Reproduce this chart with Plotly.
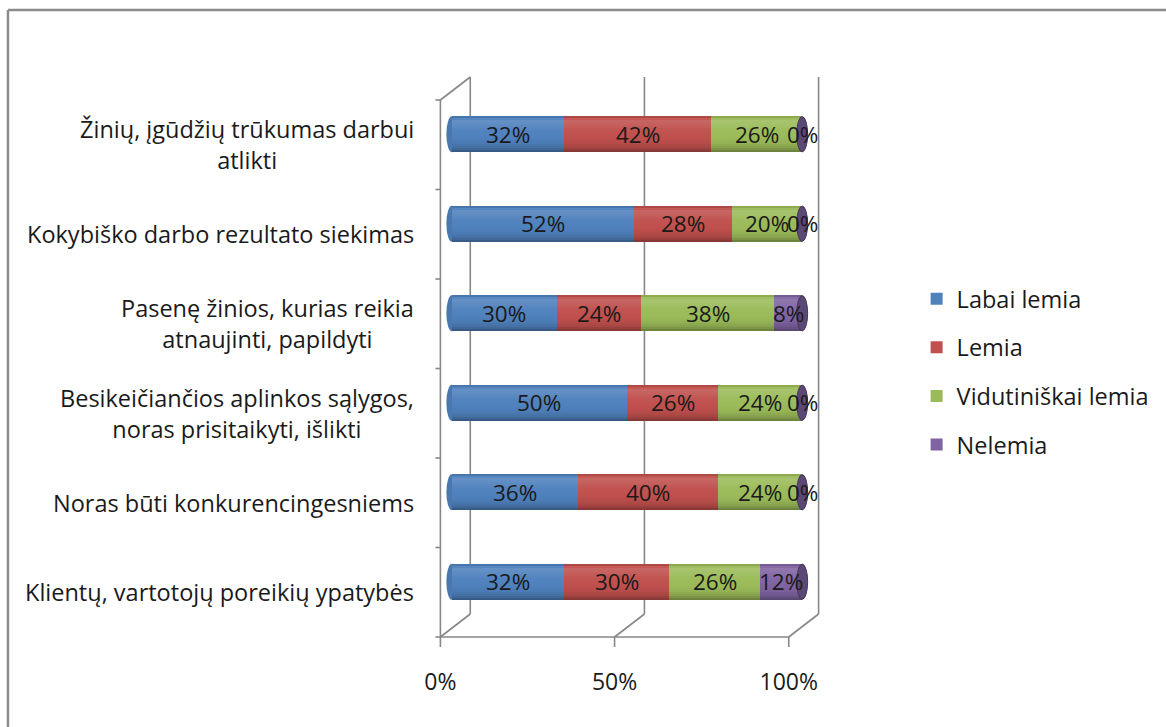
import plotly.graph_objects as go

# Survey items, bottom to top
categories = [
    "Klientų, vartotojų poreikių ypatybės",
    "Noras būti konkurencingesniems",
    "Besikeičiančios aplinkos sąlygos,<br>noras prisitaikyti, išlikti",
    "Pasenę žinios, kurias reikia<br>atnaujinti, papildyti",
    "Kokybiško darbo rezultato siekimas",
    "Žinių, įgūdžių trūkumas darbui<br>atlikti",
]
series_names = ["Labai lemia", "Lemia", "Vidutiniškai lemia", "Nelemia"]
labai_lemia = [32, 36, 50, 30, 52, 32]
lemia = [30, 40, 26, 24, 28, 42]
vidutiniskai_lemia = [26, 24, 24, 38, 20, 26]
nelemia = [12, 0, 0, 8, 0, 0]
x_tick_values = [0, 50, 100]
x_tick_labels = ["0%", "50%", "100%"]

series_values = [labai_lemia, lemia, vidutiniskai_lemia, nelemia]
series_colors = ["#4F81BD", "#C0504D", "#9BBB59", "#8064A2"]

FONT = "Open Sans"
TEXT = "#1a1a1a"
FRAME = "#878787"

# --- layout geometry (pixels) ---
W_PX, H_PX = 1166, 727
PLOT_L, PLOT_R, PLOT_T, PLOT_B = 420, 840, 60, 650
FRONT_X0, FRONT_SCALE = 440.5, 3.5      # front plane: px of 0 %, px per %
BAR_X0, BAR_SCALE = 452.0, 3.52          # cylinders: px of 0 %, px per %
CAT_PX = 89.5                            # px per category
FRONT_Y_BOTTOM = 637.0                   # px of the front floor edge

front_range = [(PLOT_L - FRONT_X0) / FRONT_SCALE, (PLOT_R - FRONT_X0) / FRONT_SCALE]
bar_range = [(PLOT_L - BAR_X0) / BAR_SCALE, (PLOT_R - BAR_X0) / BAR_SCALE]
y_range = [-0.5 - (PLOT_B - FRONT_Y_BOTTOM) / CAT_PX,
           -0.5 + (FRONT_Y_BOTTOM - PLOT_T) / CAT_PX]

DEPTH_X = 30 / FRONT_SCALE   # depth offset of back wall, in % units
DEPTH_Y = 23 / CAT_PX        # depth offset of back wall, in category units
BAR_SHIFT = 10.5 / CAT_PX    # cylinders sit half-way into the depth
BAR_W = 36 / CAT_PX          # cylinder thickness


def shade(hex_color, f):
    r, g, b = (int(hex_color[i:i + 2], 16) for i in (1, 3, 5))
    if f >= 1:
        t = f - 1
        r, g, b = (c + (255 - c) * t for c in (r, g, b))
    else:
        r, g, b = (c * f for c in (r, g, b))
    return "#%02x%02x%02x" % tuple(int(max(0, min(255, round(c)))) for c in (r, g, b))


# brightness profile across the cylinder, top edge (0) to bottom edge (1)
profile = [(0.00, 0.80), (0.05, 1.00), (0.14, 1.12), (0.26, 1.08), (0.40, 1.02),
           (0.60, 1.00), (0.75, 0.95), (0.88, 0.86), (1.00, 0.66)]


def brightness(t):
    for (t0, f0), (t1, f1) in zip(profile, profile[1:]):
        if t <= t1:
            return f0 + (f1 - f0) * (t - t0) / (t1 - t0)
    return profile[-1][1]


N_BANDS = 18
bands = [(k / N_BANDS, (k + 1) / N_BANDS, brightness((k + 0.5) / N_BANDS))
         for k in range(N_BANDS)]

ypos = [i + BAR_SHIFT for i in range(len(categories))]

fig = go.Figure()

starts = [0] * len(categories)
seg_starts = []
for name, vals, col in zip(series_names, series_values, series_colors):
    base = list(starts)
    seg_starts.append(base)
    # full-width layer (also provides the legend swatch)
    fig.add_trace(go.Bar(
        orientation="h", x=vals, y=ypos, base=base, xaxis="x2", yaxis="y",
        width=BAR_W, offset=-BAR_W / 2, marker=dict(color=col, line=dict(width=0)),
        name=name, legendgroup=name, showlegend=True, hoverinfo="skip",
    ))
    for a, b, f in bands:
        fig.add_trace(go.Bar(
            orientation="h", x=vals, y=ypos, base=base, xaxis="x2", yaxis="y",
            width=(b - a) * BAR_W * 1.06, offset=BAR_W / 2 - b * BAR_W,
            marker=dict(color=shade(col, f), line=dict(width=0)),
            name=name, legendgroup=name, showlegend=False, hoverinfo="skip",
        ))
    starts = [s + v for s, v in zip(starts, vals)]

shapes = []
line = dict(color=FRAME, width=1.6)


def seg(x0, y0, x1, y1, xref="x", yref="y", ln=line):
    shapes.append(dict(type="line", xref=xref, yref=yref, x0=x0, y0=y0, x1=x1, y1=y1,
                       line=ln, layer="below"))


y_lo, y_hi = -0.5, len(categories) - 0.5
for g in x_tick_values:
    # back wall gridlines
    seg(g + DEPTH_X, y_lo + DEPTH_Y, g + DEPTH_X, y_hi + DEPTH_Y)
    # floor diagonals
    seg(g, y_lo, g + DEPTH_X, y_lo + DEPTH_Y)
    # floor tick marks
    seg(g, y_lo, g, y_lo - 10 / CAT_PX)
# front floor edge
seg(0, y_lo, 100, y_lo)
# left wall
seg(0, y_lo, 0, y_hi)
seg(0, y_hi, DEPTH_X, y_hi + DEPTH_Y)
for k in range(len(categories) + 1):
    seg(-5 / FRONT_SCALE, y_lo + k, 0, y_lo + k)

# cylinder end caps
cap_w = 5.5 / BAR_SCALE
for i, y in enumerate(ypos):
    shapes.append(dict(type="circle", xref="x2", yref="y", layer="below",
                       x0=-cap_w, x1=cap_w, y0=y - BAR_W / 2, y1=y + BAR_W / 2,
                       fillcolor=shade(series_colors[0], 0.92), line=dict(width=0)))
    total = starts[i]
    shapes.append(dict(type="circle", xref="x2", yref="y", layer="above",
                       x0=total - cap_w, x1=total + cap_w,
                       y0=y - BAR_W / 2 + 0.004, y1=y + BAR_W / 2 - 0.004,
                       fillcolor=shade(series_colors[3], 0.72),
                       line=dict(color=shade(series_colors[3], 0.55), width=1)))

# outer chart border (top and left edges)
px = lambda p: (p - PLOT_L) / (PLOT_R - PLOT_L)
py = lambda p: (PLOT_B - p) / (PLOT_B - PLOT_T)
border = dict(color="#8c8c8c", width=2.5)
seg(px(6), py(10), px(1180), py(10), "paper", "paper", border)
seg(px(6), py(10), px(6), py(740), "paper", "paper", border)

annotations = []
# value labels centred on each segment
for vals, bases in zip(series_values, seg_starts):
    for i, (v, b0) in enumerate(zip(vals, bases)):
        annotations.append(dict(
            xref="x2", yref="y", x=b0 + v / 2, y=ypos[i], text=f"{v}%",
            showarrow=False, font=dict(family=FONT, size=22.5, color=TEXT),
            xanchor="center", yanchor="middle"))
# category labels
for i, c in enumerate(categories):
    annotations.append(dict(
        xref="paper", yref="y", x=px(416), y=i, text=c, showarrow=False,
        align="center", xanchor="right", yanchor="middle",
        font=dict(family=FONT, size=23.5, color=TEXT)))

fig.update_layout(
    width=W_PX, height=H_PX, autosize=False,
    margin=dict(l=PLOT_L, r=W_PX - PLOT_R, t=PLOT_T, b=H_PX - PLOT_B, pad=0),
    paper_bgcolor="white", plot_bgcolor="rgba(0,0,0,0)",
    barmode="overlay", bargap=0,
    xaxis=dict(range=front_range, tickvals=x_tick_values, ticktext=x_tick_labels,
               showgrid=False, zeroline=False, showline=False, ticks="",
               ticklabelstandoff=16,
               tickfont=dict(family=FONT, size=23, color=TEXT)),
    xaxis2=dict(range=bar_range, overlaying="x", visible=False, showgrid=False,
                zeroline=False),
    yaxis=dict(range=y_range, visible=False, showgrid=False, zeroline=False),
    shapes=shapes, annotations=annotations,
    legend=dict(x=px(919), y=py(277), xanchor="left", yanchor="top",
                font=dict(family=FONT, size=23.5, color=TEXT),
                tracegroupgap=15, bgcolor="rgba(0,0,0,0)"),
    showlegend=True,
)

fig.write_html("out.html")
